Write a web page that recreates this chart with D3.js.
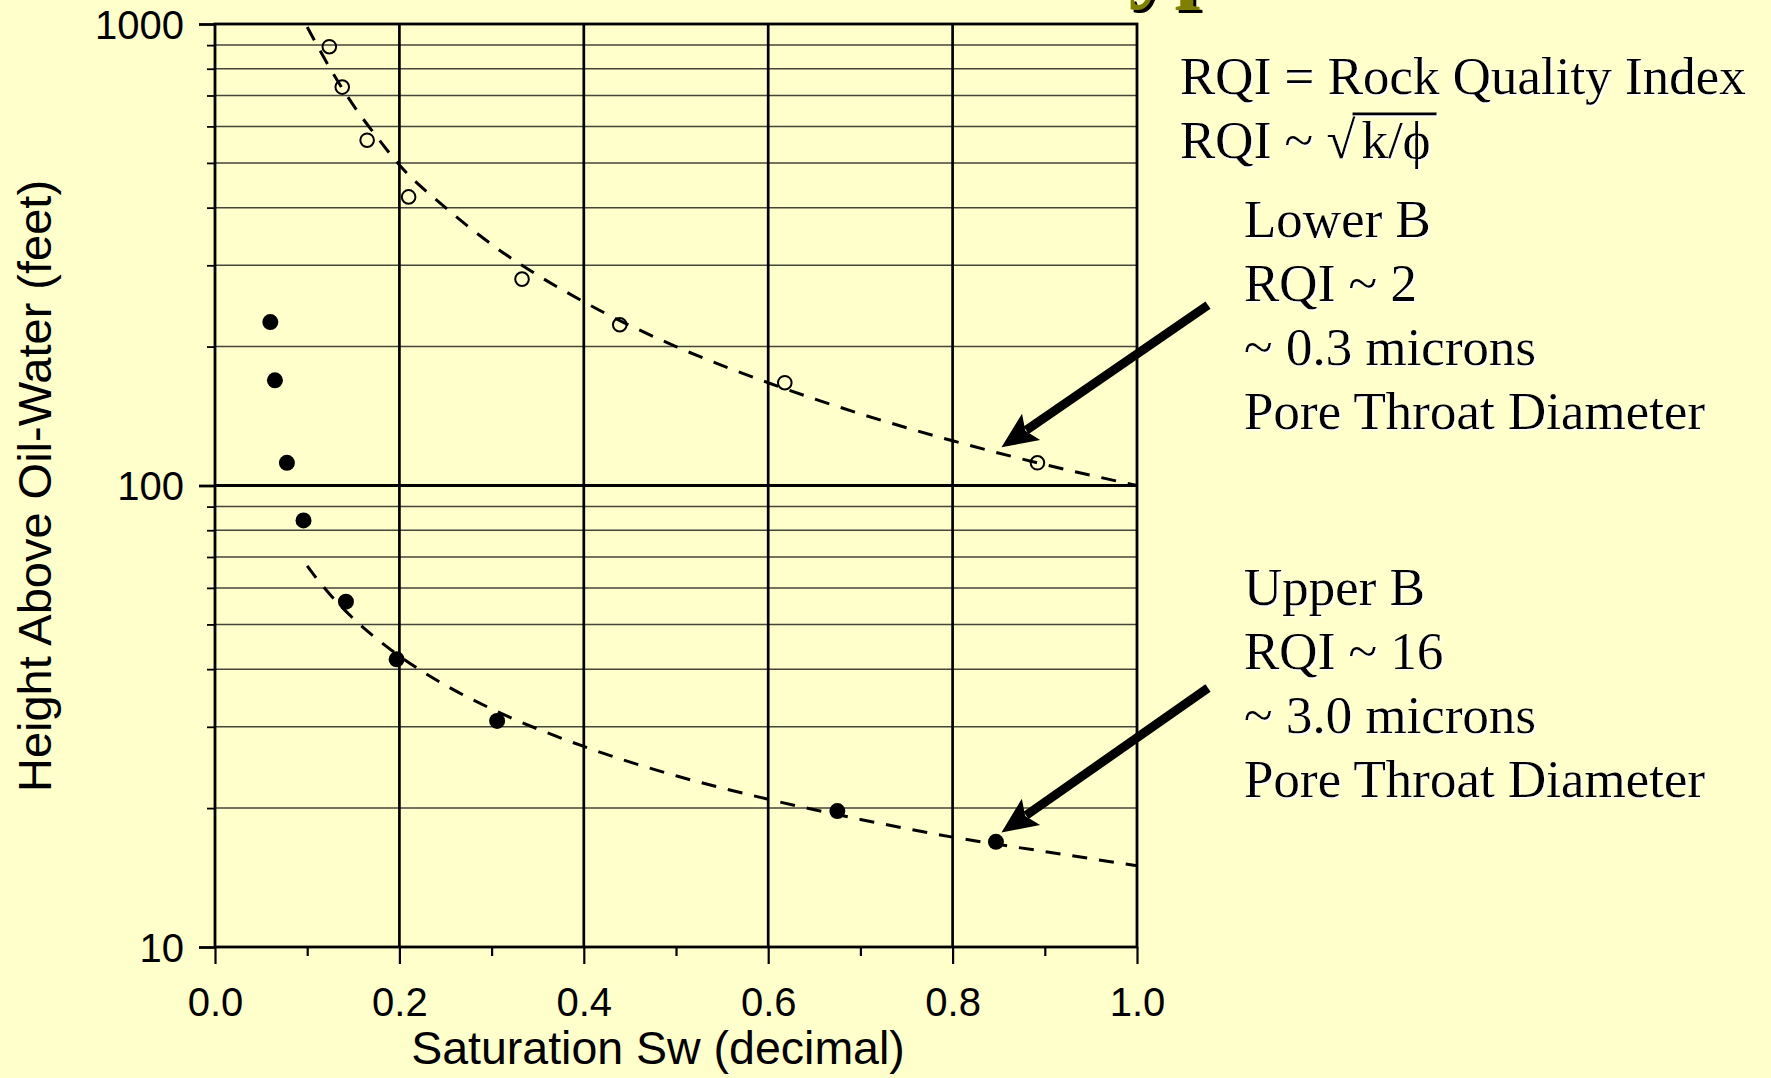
<!DOCTYPE html>
<html>
<head>
<meta charset="utf-8">
<script src="https://cdn.jsdelivr.net/npm/d3@7"></script>
<style>
  html, body { margin: 0; padding: 0; background: #FFFFCC; overflow: hidden; }
  svg { display: block; }
</style>
</head>
<body>
<svg id="chart" width="1771" height="1078"></svg>
<script>
// ---------- data ----------
const lowerSw = [0.124, 0.138, 0.165, 0.210, 0.333, 0.439, 0.618, 0.892];
const lowerH  = [893, 730, 560, 422, 280, 223, 167, 112];

const upperSw = [0.060, 0.065, 0.078, 0.096, 0.142, 0.197, 0.306, 0.675, 0.847];
const upperH  = [226, 169, 112, 84, 56, 42, 30.9, 19.7, 16.9];

// dashed trend lines
const lowerCurveSw = [0.10, 0.11, 0.125, 0.15, 0.175, 0.20, 0.25, 0.30, 0.40, 0.50, 0.60, 0.70, 0.80, 0.90, 1.00];
const lowerCurveH  = [985, 905, 800, 667, 571, 495, 400, 333, 250, 200, 167, 143, 125, 111, 100];
const upperCurveSw = [0.10, 0.11, 0.125, 0.15, 0.175, 0.20, 0.25, 0.30, 0.40, 0.50, 0.60, 0.70, 0.80, 0.90, 1.00];
const upperCurveH  = [67, 63, 58, 51.5, 46.6, 42.7, 36.9, 32.8, 27.2, 23.5, 20.9, 18.9, 17.3, 16.1, 15];

const xTickValues = [0, 0.1, 0.2, 0.3, 0.4, 0.5, 0.6, 0.7, 0.8, 0.9, 1.0];
const xTickLabels = ["0.0", "", "0.2", "", "0.4", "", "0.6", "", "0.8", "", "1.0"];
const xMajorGrid  = [0.2, 0.4, 0.6, 0.8];
const yMajorValues = [10, 100, 1000];
const yTickLabels  = ["10", "100", "1000"];

const xTitle = "Saturation Sw (decimal)";
const yTitle = "Height Above Oil-Water (feet)";

const infoLines = ["RQI = Rock Quality Index"];
const lowerLabel = ["Lower B", "RQI ~ 2", "~ 0.3 microns", "Pore Throat Diameter"];
const upperLabel = ["Upper B", "RQI ~ 16", "~ 3.0 microns", "Pore Throat Diameter"];
const titleFragment = "Type";

// arrows in data coordinates: tail (outside plot) -> tip
const arrowTails = [[1.077, 246], [1.077, 36.4]];
const arrowTips  = [[0.853, 121], [0.853, 17.7]];

// ---------- layout ----------
const W = 1771, H = 1078;
const L = 215, R = 1137, T = 24, B = 947;
const svg = d3.select("#chart");
const sans = "'Liberation Sans', Arial, sans-serif";
const serif = "'Liberation Serif', 'Times New Roman', serif";

const defs = svg.append("defs");
defs.append("filter").attr("id", "ws").attr("x", "-5%").attr("y", "-10%").attr("width", "110%").attr("height", "130%")
  .append("feDropShadow").attr("dx", 1.6).attr("dy", 1.6).attr("stdDeviation", 0)
  .attr("flood-color", "#ffffff").attr("flood-opacity", 1);

svg.append("rect").attr("width", W).attr("height", H).attr("fill", "#FFFFCC");

const x = d3.scaleLinear().domain([0, 1]).range([L, R]);
const y = d3.scaleLog().domain([10, 1000]).range([B, T]);

// title fragment (cut off at the top edge, as in the reference)
const tf = svg.append("g");
tf.append("text").attr("x", 1077).attr("y", -6).attr("font-family", serif).attr("font-weight", "bold")
  .attr("font-size", 92).attr("fill", "#000").text(titleFragment);
tf.append("text").attr("x", 1074).attr("y", -9).attr("font-family", serif).attr("font-weight", "bold")
  .attr("font-size", 92).attr("fill", "#808000").text(titleFragment);

// minor horizontal grid
const allY = y.ticks();
const minorY = allY.filter(v => !yMajorValues.includes(v));
svg.append("g").selectAll("line").data(minorY).join("line")
  .attr("x1", L).attr("x2", R).attr("y1", d => y(d)).attr("y2", d => y(d))
  .attr("stroke", "#45453a").attr("stroke-width", 1.5);

// major horizontal line at 100
svg.append("g").selectAll("line").data(yMajorValues.filter(v => v > 10 && v < 1000)).join("line")
  .attr("x1", L).attr("x2", R).attr("y1", d => y(d)).attr("y2", d => y(d))
  .attr("stroke", "#000").attr("stroke-width", 2.8);

// vertical grid lines
svg.append("g").selectAll("line").data(xMajorGrid).join("line")
  .attr("x1", d => x(d)).attr("x2", d => x(d)).attr("y1", T).attr("y2", B)
  .attr("stroke", "#000").attr("stroke-width", 2.7);

// frame
svg.append("rect").attr("x", L).attr("y", T).attr("width", R - L).attr("height", B - T)
  .attr("fill", "none").attr("stroke", "#000").attr("stroke-width", 2.8);

// y axis
const yAxis = d3.axisLeft(y).tickValues(allY).tickSize(8)
  .tickFormat(d => { const i = yMajorValues.indexOf(d); return i >= 0 ? yTickLabels[i] : ""; });
const gy = svg.append("g").attr("transform", `translate(${L},0)`).call(yAxis);
gy.select(".domain").remove();
gy.selectAll(".tick line").attr("stroke", "#000").attr("stroke-width", d => yMajorValues.includes(d) ? 2.8 : 1.8)
  .attr("x2", d => yMajorValues.includes(d) ? -16 : -8);
gy.selectAll(".tick text").attr("x", -31).attr("dy", "0.36em")
  .attr("font-family", sans).attr("font-size", 40).attr("fill", "#000");

// x axis
const xAxis = d3.axisBottom(x).tickValues(xTickValues).tickSize(9)
  .tickFormat((d, i) => xTickLabels[i]);
const gx = svg.append("g").attr("transform", `translate(0,${B})`).call(xAxis);
gx.select(".domain").remove();
gx.selectAll(".tick line").attr("stroke", "#000").attr("stroke-width", 2.2)
  .attr("y2", (d, i) => xTickLabels[i] !== "" ? 17 : 9);
gx.selectAll(".tick text").attr("y", 69).attr("dy", 0)
  .attr("font-family", sans).attr("font-size", 40).attr("fill", "#000");

// axis titles
svg.append("text").attr("x", 658).attr("y", 1064).attr("text-anchor", "middle")
  .attr("font-family", sans).attr("font-size", 46.5).attr("fill", "#000").text(xTitle);
svg.append("text").attr("transform", "translate(51,486) rotate(-90)").attr("text-anchor", "middle")
  .attr("font-family", sans).attr("font-size", 47).attr("fill", "#000").text(yTitle);

// dashed trend curves
const line = d3.line().x(d => x(d[0])).y(d => y(d[1])).curve(d3.curveMonotoneX);
const curves = [d3.zip(lowerCurveSw, lowerCurveH), d3.zip(upperCurveSw, upperCurveH)];
svg.append("g").selectAll("path").data(curves).join("path")
  .attr("d", line).attr("fill", "none").attr("stroke", "#000")
  .attr("stroke-width", 3).attr("stroke-dasharray", "15,12");

// points
svg.append("g").selectAll("circle").data(d3.zip(lowerSw, lowerH)).join("circle")
  .attr("cx", d => x(d[0])).attr("cy", d => y(d[1])).attr("r", 6.8)
  .attr("fill", "none").attr("stroke", "#000").attr("stroke-width", 2);
svg.append("g").selectAll("circle").data(d3.zip(upperSw, upperH)).join("circle")
  .attr("cx", d => x(d[0])).attr("cy", d => y(d[1])).attr("r", 8)
  .attr("fill", "#000");

// arrows
const ag = svg.append("g");
arrowTails.forEach((tl, i) => {
  const x0 = x(tl[0]), y0 = y(tl[1]);
  const x1 = x(arrowTips[i][0]), y1 = y(arrowTips[i][1]);
  const dx = x1 - x0, dy = y1 - y0, len = Math.hypot(dx, dy);
  const ux = dx / len, uy = dy / len, px = -uy, py = ux;
  const headLen = 36, headW = 16;
  const bx = x1 - ux * headLen, by = y1 - uy * headLen;
  ag.append("line").attr("x1", x0).attr("y1", y0).attr("x2", bx + ux * 6).attr("y2", by + uy * 6)
    .attr("stroke", "#000").attr("stroke-width", 9);
  ag.append("path").attr("d", `M${x1},${y1}L${bx + px * headW},${by + py * headW}L${bx + ux * 7},${by + uy * 7}L${bx - px * headW},${by - py * headW}Z`)
    .attr("fill", "#000");
});

// right-hand text
const tg = svg.append("g").attr("font-family", serif).attr("font-size", 53).attr("fill", "#000").attr("filter", "url(#ws)");
tg.append("text").attr("x", 1180).attr("y", 94).text(infoLines[0]);
const t2a = tg.append("text").attr("x", 1180).attr("y", 158).text("RQI ~ \u221A");
const w2a = t2a.node().getComputedTextLength();
const t2b = tg.append("text").attr("x", 1180 + w2a + 6).attr("y", 158).text("k/\u03D5");
const w2b = t2b.node().getComputedTextLength();
tg.append("line").attr("x1", 1180 + w2a - 3).attr("x2", 1180 + w2a + 6 + w2b + 6)
  .attr("y1", 114).attr("y2", 114).attr("stroke", "#000").attr("stroke-width", 3);

lowerLabel.forEach((s, i) => tg.append("text").attr("x", 1244).attr("y", 237 + i * 64).text(s));
upperLabel.forEach((s, i) => tg.append("text").attr("x", 1244).attr("y", 605 + i * 64).text(s));
</script>
</body>
</html>
